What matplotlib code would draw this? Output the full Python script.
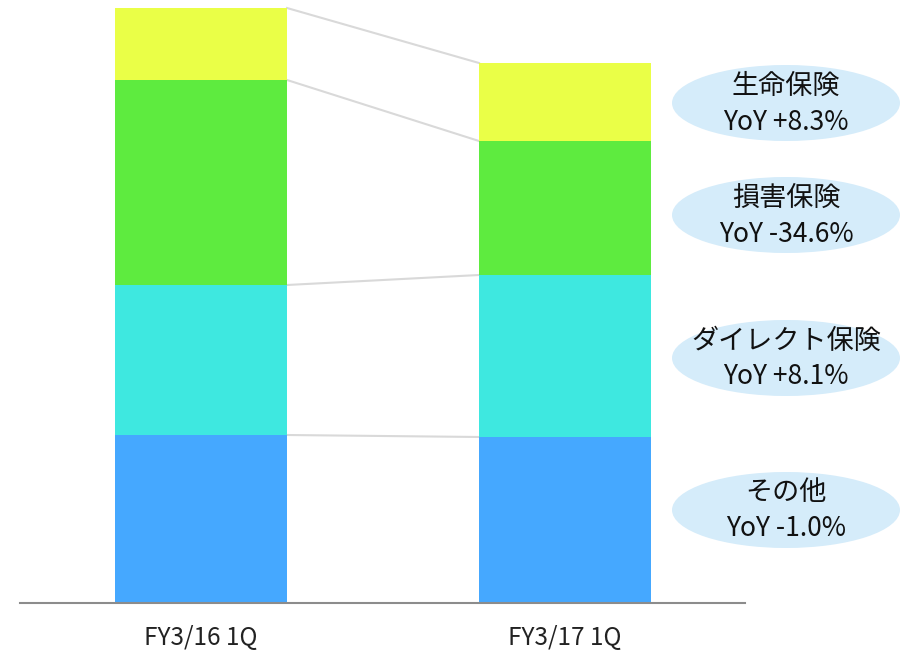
import matplotlib
matplotlib.use("Agg")
import matplotlib.pyplot as plt
from matplotlib.patches import Ellipse
import numpy as np

plt.rcParams['font.family'] = ['Noto Sans CJK JP', 'DejaVu Sans']

# data (bar heights, px units)
periods = ['FY3/16 1Q', 'FY3/17 1Q']
segments = ['その他', 'ダイレクト保険', '損害保険', '生命保険']
values = {
    'その他':       [168, 166],
    'ダイレクト保険': [150, 162],
    '損害保険':     [205, 134],
    '生命保険':     [72, 78],
}
yoy = ['-1.0%', '+8.1%', '-34.6%', '+8.3%']
colors = ['#45a8ff', '#3ee8e0', '#5eeb3f', '#eaff47']

fig = plt.figure(figsize=(9, 6.52), dpi=100)
ax = fig.add_axes([20/900, 49/652, 725/900, 603/652])

xpos = np.array([181, 545])
width = 172
bottom = np.zeros(2)
tops = []
for seg, c in zip(segments, colors):
    v = np.array(values[seg])
    ax.bar(xpos, v, width, bottom=bottom, color=c, linewidth=0, zorder=2)
    bottom = bottom + v
    tops.append(bottom.copy())

# connector lines between bars
for t in tops:
    ax.plot([xpos[0] + width/2, xpos[1] - width/2], [t[0], t[1]],
            color='#d9d9d9', lw=1.5, zorder=1)

ax.set_xlim(0, 725)
ax.set_ylim(0, 603)
for s in ['top', 'right', 'left']:
    ax.spines[s].set_visible(False)
ax.spines['bottom'].set_color('#8c8c8c')
ax.spines['bottom'].set_linewidth(1.5)
ax.set_yticks([])
ax.set_xticks(xpos)
ax.set_xticklabels(periods, fontsize=17.5, color='#222222')
ax.tick_params(axis='x', length=0, pad=16)

# label bubbles on the right (figure pixel coords)
ov = fig.add_axes([0, 0, 1, 1], facecolor='none')
ov.set_xlim(0, 900)
ov.set_ylim(652, 0)
ov.axis('off')
centers = [510, 358, 215, 103]
for seg, r, cy in zip(segments, yoy, centers):
    ov.add_patch(Ellipse((786, cy), 228, 76, facecolor='#d5ecfa', edgecolor='none'))
    ov.text(786, cy - 17, seg, ha='center', va='center', fontsize=19.5, color='#111111')
    ov.text(786, cy + 19, 'YoY ' + r, ha='center', va='center', fontsize=19, color='#111111')

fig.savefig('out.png', dpi=100)
